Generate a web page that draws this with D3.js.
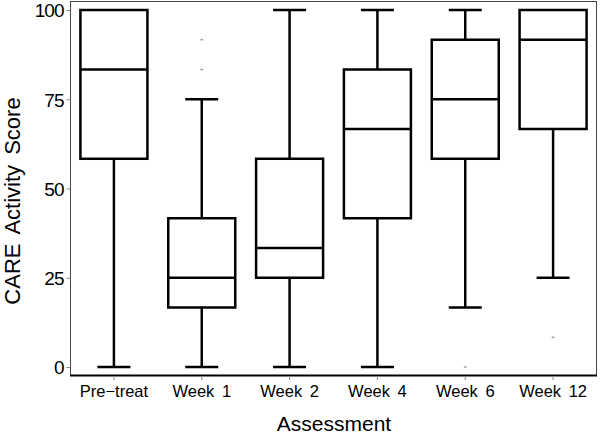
<!DOCTYPE html>
<html><head><meta charset="utf-8">
<script src="https://cdn.jsdelivr.net/npm/d3@7"></script>
<style>body{margin:0;background:#fff}svg{display:block}</style>
</head><body>
<script>
const categories = ["Pre\u2212treat","Week 1","Week 2","Week 4","Week 6","Week 12"];
const whiskerLow  = [0, 0, 0, 0, 16.67, 25];
const q1          = [58.33, 16.67, 25, 41.67, 58.33, 66.67];
const median      = [83.33, 25, 33.33, 66.67, 75, 91.67];
const q3          = [100, 41.67, 58.33, 83.33, 91.67, 100];
const whiskerHigh = [100, 75, 100, 100, 100, 100];
const outliers = [
  {cat:"Week 1", v:91.67},{cat:"Week 1", v:83.33},
  {cat:"Week 6", v:0},{cat:"Week 12", v:8.33}
];
const yTicks = [0,25,50,75,100];

const W=600,H=436;
const L=70,R=597,T=1,B=376;
const svg=d3.select("body").append("svg").attr("width",W).attr("height",H);
const x=d3.scaleBand().domain(categories).range([L,R]).padding(0);
const y=d3.scaleLinear().domain([0,100]).range([367,10]);

// frame
svg.append("rect").attr("x",L+0.5).attr("y",T+0.5).attr("width",R-L-1).attr("height",B-T-1)
  .attr("fill","none").attr("stroke","#444").attr("stroke-width",1);
svg.append("line").attr("x1",L).attr("x2",R).attr("y1",B-0.5).attr("y2",B-0.5).attr("stroke","#000").attr("stroke-width",2);

const font="'Liberation Sans', Arial, sans-serif";
const yAxis=d3.axisLeft(y).tickValues(yTicks).tickSize(4).tickPadding(3).tickFormat(d3.format("d"));
const gy=svg.append("g").attr("transform",`translate(${L+0.5},0)`).call(yAxis);
gy.select(".domain").remove();
gy.selectAll("line").attr("stroke","#888");
gy.selectAll("text").attr("font-family",font).attr("font-size",19).attr("fill","#000").attr("dy","0.36em").attr("letter-spacing","-1");

const xAxis=d3.axisBottom(x).tickSize(4).tickPadding(5);
const gx=svg.append("g").attr("transform",`translate(0,${B})`).call(xAxis);
gx.select(".domain").remove();
gx.selectAll("line").attr("stroke","#888");
gx.selectAll("text").attr("font-family",font).attr("font-size",16.5).attr("fill","#000").attr("word-spacing","3");

svg.append("text").attr("x",(L+R)/2+0.5).attr("y",431).attr("text-anchor","middle")
  .attr("font-family",font).attr("font-size",21).text("Assessment");
svg.append("text").attr("transform","translate(20,201) rotate(-90)").attr("text-anchor","middle")
  .attr("font-family",font).attr("font-size",22).attr("word-spacing","4").text("CARE Activity Score");

const boxW=67, capW=33, sw=2.5;
const g=svg.append("g");
categories.forEach((c,i)=>{
  const cx=x(c)+x.bandwidth()/2;
  g.append("line").attr("x1",cx).attr("x2",cx).attr("y1",y(q3[i])).attr("y2",y(whiskerHigh[i])).attr("stroke","#000").attr("stroke-width",sw);
  g.append("line").attr("x1",cx).attr("x2",cx).attr("y1",y(q1[i])).attr("y2",y(whiskerLow[i])).attr("stroke","#000").attr("stroke-width",sw);
  if(whiskerHigh[i]>q3[i]) g.append("line").attr("x1",cx-capW/2).attr("x2",cx+capW/2).attr("y1",y(whiskerHigh[i])).attr("y2",y(whiskerHigh[i])).attr("stroke","#000").attr("stroke-width",sw);
  if(whiskerLow[i]<q1[i]) g.append("line").attr("x1",cx-capW/2).attr("x2",cx+capW/2).attr("y1",y(whiskerLow[i])).attr("y2",y(whiskerLow[i])).attr("stroke","#000").attr("stroke-width",sw);
  g.append("rect").attr("x",cx-boxW/2).attr("y",y(q3[i])).attr("width",boxW).attr("height",y(q1[i])-y(q3[i]))
    .attr("fill","none").attr("stroke","#000").attr("stroke-width",sw);
  g.append("line").attr("x1",cx-boxW/2).attr("x2",cx+boxW/2).attr("y1",y(median[i])).attr("y2",y(median[i])).attr("stroke","#000").attr("stroke-width",sw);
});
outliers.forEach(o=>{
  const cx=x(o.cat)+x.bandwidth()/2, cy=y(o.v);
  g.append("line").attr("x1",cx-1.5).attr("x2",cx+1.5).attr("y1",cy).attr("y2",cy).attr("stroke","#888").attr("stroke-width",1);
  g.append("line").attr("x1",cx).attr("x2",cx).attr("y1",cy-1).attr("y2",cy+1).attr("stroke","#aaa").attr("stroke-width",1);
});
</script>
</body></html>
